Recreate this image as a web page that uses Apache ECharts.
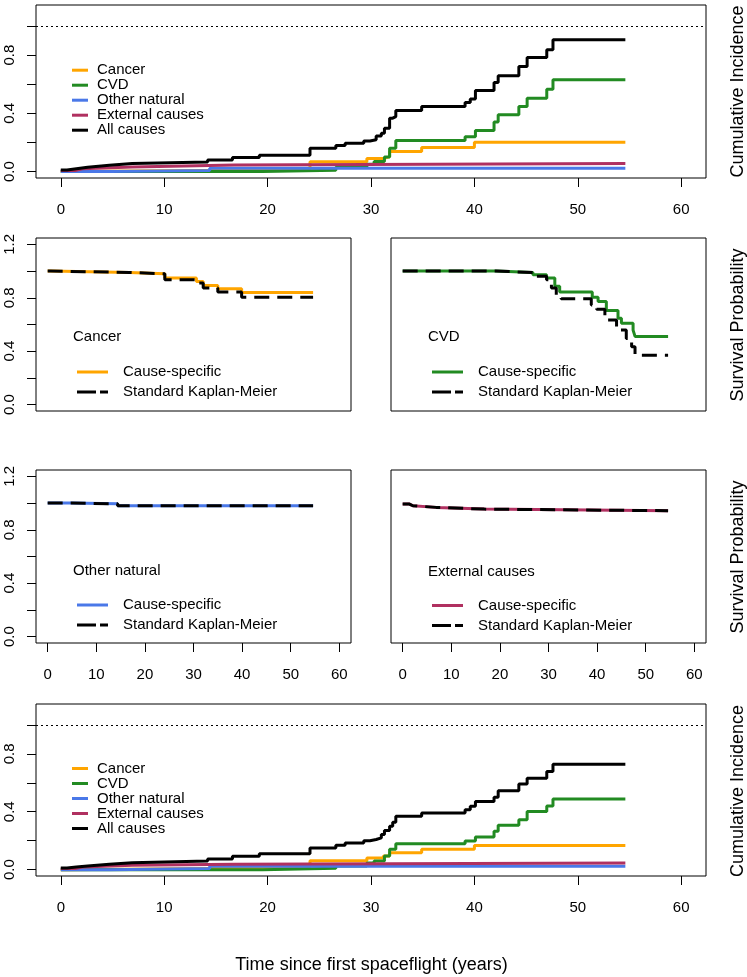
<!DOCTYPE html>
<html><head><meta charset="utf-8">
<script src="https://cdn.jsdelivr.net/npm/echarts@6/dist/echarts.min.js"></script>
<style>html,body{margin:0;padding:0;background:#fff}#c{width:747px;height:977px}</style>
</head><body><div id="c"></div>
<script>
// ---------- DATA ----------
// Top panel: cumulative incidence (1 - KM per cause)
const topCancerT = [0, 0.5, 16.8, 24.1, 29.6, 31.2, 31.8, 34.9, 40.0, 54.6];
const topCancerY = [0, 0.01, 0.02, 0.068, 0.09, 0.103, 0.138, 0.165, 0.202, 0.202];
const cvdStepT   = [0, 19.5, 26.6, 29.6, 30.3, 31.3, 31.8, 32.4, 39.1, 40.1, 41.9, 42.3, 44.3, 45.1, 47.0, 47.6, 54.6];
const topCvdY    = [0, 0.01, 0.03, 0.05, 0.07, 0.1, 0.16, 0.213, 0.24, 0.282, 0.34, 0.39, 0.447, 0.504, 0.566, 0.63, 0.63];
const otherStepT = [0, 4.8, 14.4, 54.6];
const topOtherY  = [0, 0.008, 0.023, 0.023];
const extStepT   = [0, 1.4, 2.1, 6.9, 16.8, 54.6];
const topExtY    = [0.007, 0.02, 0.032, 0.045, 0.055, 0.055];
const allStepT   = [0, 0.6, 1.5, 2.6, 4.7, 6.9, 14.2, 16.6, 19.2, 24.1, 26.6, 27.5, 29.3, 29.9, 30.5, 31.0, 31.3, 31.8, 32.1, 32.4, 34.9, 39.1, 39.6, 40.1, 41.9, 42.3, 44.3, 45.1, 47.0, 47.6, 54.6];
const topAllY    = [0.011, 0.02, 0.03, 0.043, 0.055, 0.066, 0.08, 0.097, 0.112, 0.16, 0.18, 0.195, 0.21, 0.218, 0.245, 0.263, 0.298, 0.367, 0.378, 0.42, 0.447, 0.475, 0.498, 0.557, 0.612, 0.658, 0.722, 0.784, 0.837, 0.906, 0.906];

// Bottom panel: cumulative incidence (competing risks)
const botCancerY = [0, 0.01, 0.02, 0.062, 0.08, 0.094, 0.117, 0.14, 0.167, 0.167];
const botCvdY    = [0, 0.01, 0.025, 0.045, 0.06, 0.094, 0.14, 0.178, 0.197, 0.226, 0.265, 0.306, 0.345, 0.402, 0.44, 0.487, 0.487];
const botOtherY  = [0, 0.008, 0.024, 0.024];
const botExtY    = [0.007, 0.018, 0.03, 0.038, 0.046, 0.046];
const botAllY    = [0.011, 0.018, 0.025, 0.037, 0.048, 0.06, 0.074, 0.093, 0.11, 0.15, 0.168, 0.184, 0.2, 0.208, 0.219, 0.242, 0.27, 0.299, 0.327, 0.368, 0.391, 0.414, 0.437, 0.471, 0.5, 0.544, 0.592, 0.631, 0.677, 0.727, 0.727];

// Survival panels
const cancerT  = [0, 0.6, 16.8, 24.1, 30.6, 32.0, 35.0, 39.9, 54.6];
const cancerCS = [1.0, 0.99, 0.981, 0.948, 0.923, 0.893, 0.868, 0.84, 0.84];
const cancerKM = [1.0, 0.99, 0.98, 0.935, 0.91, 0.873, 0.843, 0.805, 0.805];
const cvdCsT   = [0, 19.2, 26.8, 29.6, 31.3, 32.3, 39.0, 40.2, 41.9, 44.3, 45.0, 47.4, 47.8, 54.6];
const cvdCS    = [1.0, 0.99, 0.972, 0.949, 0.886, 0.843, 0.805, 0.772, 0.704, 0.647, 0.609, 0.558, 0.511, 0.511];
const cvdKmT   = [0, 19.2, 26.8, 29.6, 30.6, 31.6, 32.6, 38.8, 39.9, 41.6, 44.0, 46.0, 47.1, 47.8, 54.6];
const cvdKM    = [1.0, 0.99, 0.962, 0.935, 0.873, 0.82, 0.792, 0.747, 0.714, 0.634, 0.558, 0.496, 0.433, 0.37, 0.37];
const otherCS  = [1.0, 0.995, 0.98, 0.98];
const otherKM  = [1.0, 0.995, 0.98, 0.98];
const extCS    = [0.993, 0.98, 0.968, 0.955, 0.943, 0.943];
const extKM    = [0.993, 0.98, 0.968, 0.955, 0.943, 0.943];

// Ticks
const xTickValues = [0, 10, 20, 30, 40, 50, 60];
const xTickLabels = ['0', '10', '20', '30', '40', '50', '60'];
const ciTickValues = [0, 0.2, 0.4, 0.6, 0.8, 1.0];
const ciLabelValues = [0, 0.4, 0.8];
const ciLabels = ['0.0', '0.4', '0.8'];
const spTickValues = [0, 0.2, 0.4, 0.6, 0.8, 1.0, 1.2];
const spLabelValues = [0, 0.4, 0.8, 1.2];
const spLabels = ['0.0', '0.4', '0.8', '1.2'];

const causeNames = ['Cancer', 'CVD', 'Other natural', 'External causes', 'All causes'];

// ---------- STYLE ----------
const FONT = '"Liberation Sans", Arial, sans-serif';
const C = { cancer: '#FFA500', cvd: '#228B22', other: '#4A78E8', ext: '#B03060', all: '#000000' };
const pair = (t, y) => t.map((v, i) => [v, y[i]]);
const labelMap = (vals, labs) => (v) => { const i = vals.findIndex(x => Math.abs(x - v) < 1e-9); return i >= 0 ? labs[i] : ''; };

const grids = [
  { left: 36, top: 5, width: 670, height: 173 },
  { left: 36, top: 238, width: 315, height: 173 },
  { left: 391, top: 238, width: 315, height: 173 },
  { left: 36, top: 470, width: 315, height: 173 },
  { left: 391, top: 470, width: 315, height: 173 },
  { left: 36, top: 704, width: 670, height: 172 }
].map(g => Object.assign(g, { show: true, borderColor: '#000', borderWidth: 1, backgroundColor: 'transparent', containLabel: false }));

function xAxis(i, showTicks) {
  return {
    type: 'value', gridIndex: i, min: -2.4, max: 62.4, position: 'bottom',
    axisLine: { show: false, onZero: false }, splitLine: { show: false },
    axisTick: { show: showTicks, length: 9, lineStyle: { color: '#000', width: 1 }, customValues: xTickValues },
    axisLabel: { show: showTicks, customValues: xTickValues, formatter: labelMap(xTickValues, xTickLabels),
      fontSize: 15, fontFamily: FONT, color: '#000', margin: 24 }
  };
}
function yAxis(i, kind) {
  const ci = kind === 'ci';
  const show = kind !== 'none';
  return {
    type: 'value', gridIndex: i, position: 'left',
    min: ci ? -0.044 : -0.048, max: ci ? 1.144 : 1.248,
    axisLine: { show: false, onZero: false }, splitLine: { show: false },
    axisTick: { show: show, length: 9, lineStyle: { color: '#000', width: 1 }, customValues: ci ? ciTickValues : spTickValues },
    axisLabel: { show: show, rotate: 90, customValues: ci ? ciLabelValues : spLabelValues,
      formatter: ci ? labelMap(ciLabelValues, ciLabels) : labelMap(spLabelValues, spLabels),
      fontSize: 15, fontFamily: FONT, color: '#000', margin: 19 }
  };
}

function line(name, gi, data, color, dashed, extra) {
  return Object.assign({
    type: 'line', name: name, xAxisIndex: gi, yAxisIndex: gi, data: data,
    step: 'end', symbol: 'none', showSymbol: false, silent: true, animation: false,
    itemStyle: { color: color },
    lineStyle: { color: color, width: 3, type: dashed ? [15, 8] : 'solid', cap: 'butt' }
  }, extra || {});
}
const refLine = { markLine: { silent: true, symbol: 'none', label: { show: false }, animation: false,
  lineStyle: { color: '#000', width: 1, type: [2, 3] }, data: [{ yAxis: 1 }] } };

const series = [
  line('Cancer', 0, pair(topCancerT, topCancerY), C.cancer),
  line('CVD', 0, pair(cvdStepT, topCvdY), C.cvd),
  line('Other natural', 0, pair(otherStepT, topOtherY), C.other),
  line('External causes', 0, pair(extStepT, topExtY), C.ext),
  line('All causes', 0, pair(allStepT, topAllY), C.all, false, refLine),

  line('Cause-specific', 1, pair(cancerT, cancerCS), C.cancer),
  line('Standard Kaplan-Meier', 1, pair(cancerT, cancerKM), '#000', true),
  line('Cause-specific', 2, pair(cvdCsT, cvdCS), C.cvd),
  line('Standard Kaplan-Meier', 2, pair(cvdKmT, cvdKM), '#000', true),
  line('Cause-specific', 3, pair(otherStepT, otherCS), C.other),
  line('Standard Kaplan-Meier', 3, pair(otherStepT, otherKM), '#000', true),
  line('Cause-specific', 4, pair(extStepT, extCS), C.ext),
  line('Standard Kaplan-Meier', 4, pair(extStepT, extKM), '#000', true),

  line('Cancer', 5, pair(topCancerT, botCancerY), C.cancer),
  line('CVD', 5, pair(cvdStepT, botCvdY), C.cvd),
  line('Other natural', 5, pair(otherStepT, botOtherY), C.other),
  line('External causes', 5, pair(extStepT, botExtY), C.ext),
  line('All causes', 5, pair(allStepT, botAllY), C.all, false, refLine)
];

const kmIcon = 'path://M0,0H19V3H0Z M23,0H31V3H23Z';
function causeLegend(left, top) {
  return { left: left, top: top, orient: 'vertical', itemWidth: 16, itemHeight: 3, itemGap: 0,
    icon: 'rect', selectedMode: false, padding: 0,
    textStyle: { fontSize: 15, fontFamily: FONT, color: '#000', lineHeight: 14.6, padding: [0, 0, 0, 4] },
    data: causeNames };
}
function survLegend(left, top, color) {
  return { left: left, top: top, orient: 'vertical', itemWidth: 31, itemHeight: 3, itemGap: 5,
    selectedMode: false, padding: 0,
    textStyle: { fontSize: 15, fontFamily: FONT, color: '#000', padding: [0, 0, 0, 10] },
    data: [
      { name: 'Cause-specific', icon: 'rect', itemStyle: { color: color } },
      { name: 'Standard Kaplan-Meier', icon: kmIcon, itemStyle: { color: '#000' } }
    ] };
}

function txt(s, x, y, size, rot, align) {
  return { type: 'text', x: x, y: y, rotation: rot || 0, silent: true,
    style: { text: s, fontSize: size, fontFamily: FONT, fill: '#000',
      textAlign: align || 'center', textVerticalAlign: 'middle' } };
}
const R = Math.PI / 2;

const option = {
  animation: false,
  backgroundColor: '#fff',
  grid: grids,
  xAxis: [xAxis(0, true), xAxis(1, false), xAxis(2, false), xAxis(3, true), xAxis(4, true), xAxis(5, true)],
  yAxis: [yAxis(0, 'ci'), yAxis(1, 'sp'), yAxis(2, 'none'), yAxis(3, 'sp'), yAxis(4, 'none'), yAxis(5, 'ci')],
  legend: [
    causeLegend(72, 62.7),
    causeLegend(72, 761),
    survLegend(77, 364.5, C.cancer),
    survLegend(432, 364.5, C.cvd),
    survLegend(77, 597.5, C.other),
    survLegend(432, 598, C.ext)
  ],
  graphic: [
    txt('Cumulative Incidence', 738, 91.5, 18, R),
    txt('Survival Probability', 738, 325, 18, R),
    txt('Survival Probability', 738, 557, 18, R),
    txt('Cumulative Incidence', 738, 791, 18, R),
    txt('Time since first spaceflight (years)', 371.5, 965, 18, 0),
    txt('Cancer', 73, 337, 15, 0, 'left'),
    txt('CVD', 428, 337, 15, 0, 'left'),
    txt('Other natural', 73, 571, 15, 0, 'left'),
    txt('External causes', 428, 571.5, 15, 0, 'left')
  ],
  series: series
};

const chart = echarts.init(document.getElementById('c'), null, { renderer: 'canvas' });
chart.setOption(option);
</script></body></html>
